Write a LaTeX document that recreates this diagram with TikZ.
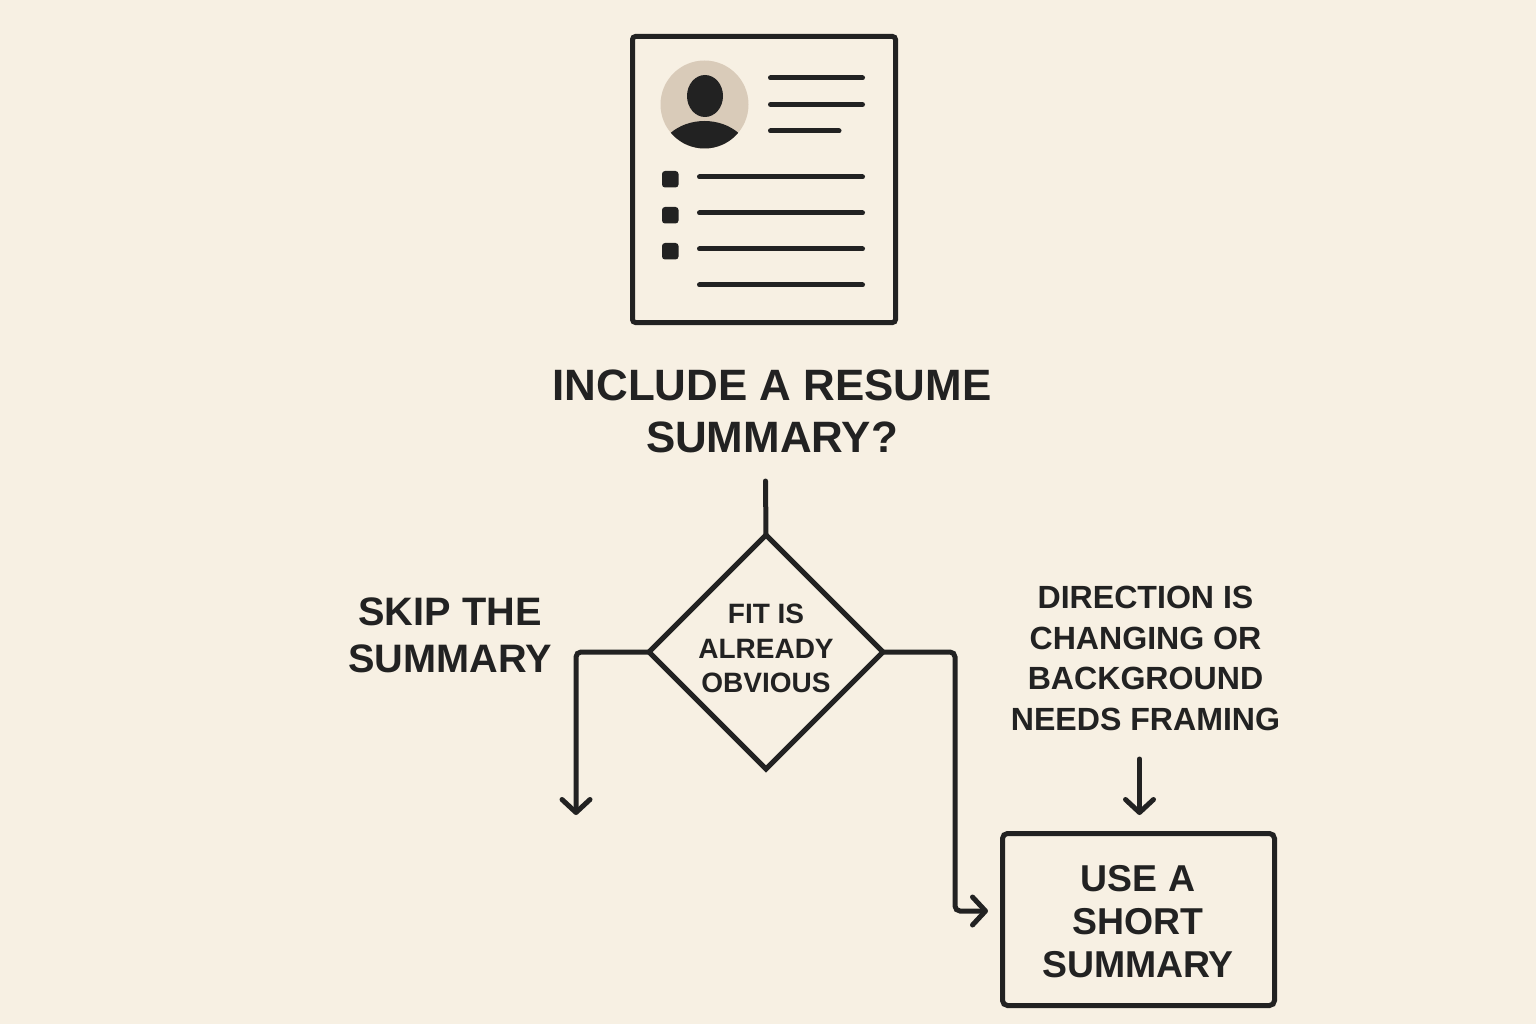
\documentclass[tikz,border=0pt]{standalone}
\usepackage{fontspec}
\setmainfont{Liberation Sans}
\usepackage{xcolor}
\usetikzlibrary{arrows.meta,shapes.geometric}
\definecolor{papercolor}{HTML}{F7F0E3}
\definecolor{inkcolor}{HTML}{222222}
\definecolor{avatarcolor}{HTML}{D9CBB9}
\tikzset{
    ink/.style={draw=inkcolor,line width=5pt},
    textline/.style={draw=inkcolor,line width=5pt,line cap=round},
    bullet/.style={fill=inkcolor,rounded corners=3pt},
    flowline/.style={draw=inkcolor,line width=5pt,line cap=round,rounded corners=5pt,
        -{Straight Barb[length=13pt,width=28pt,line width=5pt,round]}},
    plainline/.style={draw=inkcolor,line width=5pt,line cap=round},
    caption/.style={text=inkcolor,align=center,font=\bfseries},
}
\begin{document}
\begin{tikzpicture}[x=1pt,y=-1pt]
        \fill[papercolor] (0,0) rectangle (1536,1024);
        \useasboundingbox (0,0) rectangle (1536,1024);
        \draw[ink,rounded corners=3pt] (632.5,36.5) rectangle (895.5,322.5);
        \fill[avatarcolor] (704.5,104.5) circle[radius=44];
        \fill[inkcolor] (705,96) ellipse[x radius=18,y radius=21];
        \begin{scope}
            \clip (704.5,104.5) circle[radius=44];
            \fill[inkcolor] (704.5,161) ellipse[x radius=47.6,y radius=40];
        \end{scope}
        \draw[textline] (770.5,78)--(862.5,78);
        \draw[textline] (770.5,104.5)--(862.5,104.5);
        \draw[textline] (770.5,131)--(839,131);
        \fill[bullet] (662,171)rectangle(678.5,187.5);
        \fill[bullet] (662,207)rectangle(678.5,223.5);
        \fill[bullet] (662,243)rectangle(678.5,259.5);
        \draw[textline] (699.5,177)--(862.5,177);
        \draw[textline] (699.5,213)--(862.5,213);
        \draw[textline] (699.5,249)--(862.5,249);
        \draw[textline] (699.5,285)--(862.5,285);
        \node[caption,font=\fontsize{43.9}{52}\bfseries\selectfont] (question) at (772,411.5) {INCLUDE A RESUME\\SUMMARY?};
        \node[diamond,ink,minimum width=234pt,minimum height=234pt,inner sep=0pt,outer sep=0pt] (fit) at (766,652) {};
        \node[caption,font=\fontsize{28}{34.5}\bfseries\selectfont] (fittext) at (766,648.5) {FIT IS\\ALREADY\\OBVIOUS};
        \node[caption,font=\fontsize{39.7}{47}\bfseries\selectfont] (skip) at (450,635) {SKIP THE\\SUMMARY};
        \node[caption,font=\fontsize{32.1}{40.7}\bfseries\selectfont] (direction) at (1145.5,658.5) {DIRECTION IS\\CHANGING OR\\BACKGROUND\\NEEDS FRAMING};
        \node[ink,rectangle,rounded corners=5pt,minimum width=272pt,minimum height=172pt,outer sep=0pt] (usebox) at (1138.5,919.5) {};
        \node[caption,font=\fontsize{37.4}{43}\bfseries\selectfont] (usetext) at (1138,921.5) {USE A\\SHORT\\SUMMARY};
        \coordinate (questionend) at (765.5,481);
        \coordinate (skipend) at (576,815);
        \coordinate (useentry) at (988,911);
        \coordinate (directionstart) at (1139.5,759);
        \coordinate (directionend) at (1139.5,815);
        \draw[plainline] (questionend)--(fit.north);
        \draw[flowline] (fit.west)-|(skipend);
        \draw[flowline] (fit.east)-|(955,911)--(useentry);
        \draw[flowline] (directionstart)--(directionend);
    \end{tikzpicture}
\end{document}
